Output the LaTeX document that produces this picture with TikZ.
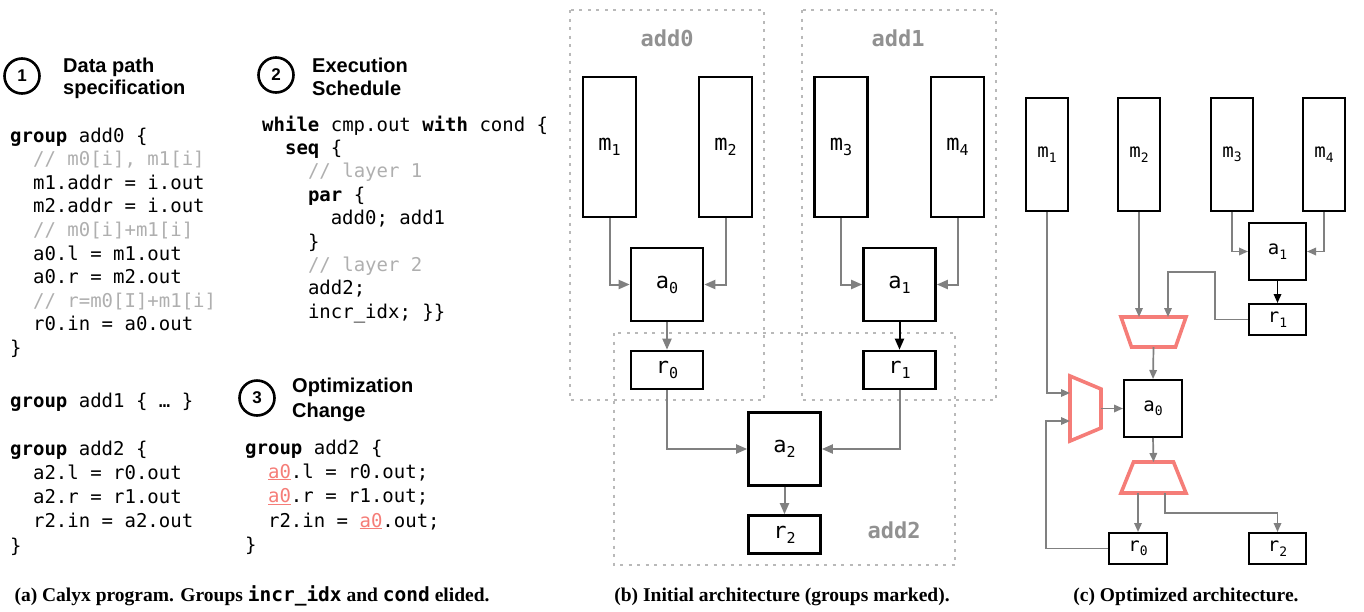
\documentclass[tikz,border=0pt]{standalone}
\usepackage{fontspec}
\setmainfont{Liberation Serif}
\newfontfamily\codef{DejaVu Sans Mono}
\newfontfamily\headf{Liberation Sans}
\usetikzlibrary{arrows.meta,calc}
\definecolor{cgray}{RGB}{175,175,175}
\definecolor{agray}{RGB}{128,128,128}
\definecolor{grpgray}{RGB}{185,185,185}
\definecolor{lblgray}{RGB}{145,145,145}
\definecolor{salmon}{RGB}{245,125,120}
\newcommand\cmt[1]{\textcolor{cgray}{#1}}
\newcommand\redaz{\textcolor{salmon}{\underline{a0}}}
\newcommand\sbB[1]{\raisebox{-5pt}{\fontsize{15}{15}\selectfont #1}}
\newcommand\sbM[1]{\raisebox{-4.5pt}{\fontsize{13}{13}\selectfont #1}}
\newcommand\sbA[1]{\raisebox{-4.5pt}{\fontsize{13}{13}\selectfont #1}}
\begin{document}
\begin{tikzpicture}[x=1pt,y=-1pt,
  codeline/.style={anchor=base west, inner sep=0pt, font=\codef\fontsize{19}{22}\selectfont},
  headtxt/.style={anchor=base west, inner sep=0pt, font=\headf\bfseries\fontsize{20}{24}\selectfont},
  circ/.style={circle, draw, line width=2.6pt, minimum size=35pt, inner sep=0pt, font=\headf\bfseries\fontsize{17}{17}\selectfont},
  captxt/.style={anchor=base, inner sep=0pt, font=\bfseries\fontsize{19.5}{22}\selectfont},
  grp/.style={draw=grpgray, line width=2pt, dash pattern=on 3pt off 5.5pt},
  grplbl/.style={text=lblgray, inner sep=0pt, font=\codef\bfseries\fontsize{22}{22}\selectfont},
  boxb/.style={draw, line width=2.6pt, inner sep=0pt, font=\codef\fontsize{22}{22}\selectfont},
  memb/.style={boxb, minimum width=53pt, minimum height=140pt},
  addb/.style={boxb, minimum width=72pt, minimum height=73pt},
  regb/.style={boxb, minimum width=72pt, minimum height=38pt},
  boxc/.style={draw, line width=2pt, inner sep=0pt, font=\codef\fontsize{19}{19}\selectfont},
  memc/.style={boxc, minimum width=42pt, minimum height=113pt},
  addc/.style={boxc, minimum width=57pt, minimum height=57pt},
  regc/.style={boxc, minimum width=57pt, minimum height=31pt},
  arrb/.style={draw=agray, line width=2pt, -{Triangle[length=11pt,width=9pt]}},
  arrbk/.style={arrb, draw=black},
  arrc/.style={draw=agray, line width=1.7pt, -{Triangle[length=9pt,width=7.5pt]}},
  arrck/.style={arrc, draw=black},
  muxline/.style={draw=salmon, line width=3.6pt, line join=miter},
  muxbox/.style={inner sep=0pt, outer sep=0pt}
]
\useasboundingbox (0,0) rectangle (1364,611);

% ---------------- panel (a) ----------------
\node[circ] (h1) at (22,76) {1};
\node[headtxt] (h1a) at (63,72) {Data path};
\node[headtxt] (h1b) at (63,94.5) {specification};

\node[codeline] (p1l1) at (10,142) {\textbf{group} add0 \{};
\node[codeline] (p1l2) at (32.9,165.6) {\cmt{// m0[i], m1[i]}};
\node[codeline] (p1l3) at (32.9,189.2) {m1.addr = i.out};
\node[codeline] (p1l4) at (32.9,212.8) {m2.addr = i.out};
\node[codeline] (p1l5) at (32.9,236.4) {\cmt{// m0[i]+m1[i]}};
\node[codeline] (p1l6) at (32.9,260) {a0.l = m1.out};
\node[codeline] (p1l7) at (32.9,283.6) {a0.r = m2.out};
\node[codeline] (p1l8) at (32.9,307.2) {\cmt{// r=m0[I]+m1[i]}};
\node[codeline] (p1l9) at (32.9,330.8) {r0.in = a0.out};
\node[codeline] (p1l10) at (10,354.4) {\}};
\node[codeline] (p1l11) at (10,407) {\textbf{group} add1 \{ … \}};
\node[codeline] (p1l12) at (10,455) {\textbf{group} add2 \{};
\node[codeline] (p1l13) at (32.9,479.3) {a2.l = r0.out};
\node[codeline] (p1l14) at (32.9,503.6) {a2.r = r1.out};
\node[codeline] (p1l15) at (32.9,527.9) {r2.in = a2.out};
\node[codeline] (p1l16) at (10,552.2) {\}};

\node[circ] (h2) at (276,75) {2};
\node[headtxt] (h2a) at (312,72) {Execution};
\node[headtxt] (h2b) at (312,95) {Schedule};

\node[codeline] (p2l1) at (262,131) {\textbf{while} cmp.out \textbf{with} cond \{};
\node[codeline] (p2l2) at (284.9,154.4) {\textbf{seq} \{};
\node[codeline] (p2l3) at (307.8,177.8) {\cmt{// layer 1}};
\node[codeline] (p2l4) at (307.8,201.2) {\textbf{par} \{};
\node[codeline] (p2l5) at (330.6,224.6) {add0; add1};
\node[codeline] (p2l6) at (307.8,248) {\}};
\node[codeline] (p2l7) at (307.8,271.4) {\cmt{// layer 2}};
\node[codeline] (p2l8) at (307.8,294.8) {add2;};
\node[codeline] (p2l9) at (307.8,318.2) {incr\_idx; \}\}};

\node[circ] (h3) at (257,398) {3};
\node[headtxt] (h3a) at (292,392) {Optimization};
\node[headtxt] (h3b) at (292,417) {Change};

\node[codeline] (p3l1) at (245,454) {\textbf{group} add2 \{};
\node[codeline] (p3l2) at (267.9,478) {\redaz.l = r0.out;};
\node[codeline] (p3l3) at (267.9,502.5) {\redaz.r = r1.out;};
\node[codeline] (p3l4) at (267.9,527) {r2.in = \redaz.out;};
\node[codeline] (p3l5) at (245,551) {\}};

\node[captxt] (capa) at (252,601) {(a) Calyx program. Groups {\codef incr\_idx} and {\codef cond} elided.};

% ---------------- panel (b) ----------------
\draw[grp] (570,10) rectangle (764,400);
\draw[grp] (802,10) rectangle (996,400);
\draw[grp] (614,333) rectangle (955,565);
\node[grplbl] (g0) at (667,38) {add0};
\node[grplbl] (g1) at (898,38) {add1};
\node[grplbl] (g2) at (894,530) {add2};

\node[memb] (bm1) at (609.5,147) {m\sbB{1}};
\node[memb] (bm2) at (725.5,147) {m\sbB{2}};
\node[memb] (bm3) at (841,147) {m\sbB{3}};
\node[memb] (bm4) at (957.5,147) {m\sbB{4}};
\node[addb] (ba0) at (667,284.5) {a\sbB{0}};
\node[addb] (ba1) at (899.5,284.5) {a\sbB{1}};
\node[regb] (br0) at (667,370) {r\sbB{0}};
\node[regb] (br1) at (899.5,370) {r\sbB{1}};
\node[addb] (ba2) at (784.5,449) {a\sbB{2}};
\node[regb] (br2) at (784.5,534.5) {r\sbB{2}};

\draw[arrb] (bm1.south) |- (ba0.west);
\draw[arrb] (bm2.south) |- (ba0.east);
\draw[arrb] (bm3.south) |- (ba1.west);
\draw[arrb] (bm4.south) |- (ba1.east);
\draw[arrb] (ba0.south) -- (br0.north);
\draw[arrbk] (ba1.south) -- (br1.north);
\draw[arrb] (br0.south) |- (ba2.west);
\draw[arrb] (br1.south) |- (ba2.east);
\draw[arrb] (ba2.south) -- (br2.north);

\node[captxt] (capb) at (782,601) {(b) Initial architecture (groups marked).};

% ---------------- panel (c) ----------------
\node[memc] (cm1) at (1047,154.5) {m\sbM{1}};
\node[memc] (cm2) at (1139,154.5) {m\sbM{2}};
\node[memc] (cm3) at (1232,154.5) {m\sbM{3}};
\node[memc] (cm4) at (1324,154.5) {m\sbM{4}};
\node[addc] (ca1) at (1277.5,251.5) {a\sbA{1}};
\node[regc] (cr1) at (1277.5,319.5) {r\sbA{1}};
\node[addc, minimum width=58pt] (ca0) at (1153,408.5) {a\sbA{0}};
\node[regc, minimum width=58pt] (cr0) at (1138,548.5) {r\sbA{0}};
\node[regc] (cr2) at (1277.5,548.5) {r\sbA{2}};

% muxes
\node[muxbox, minimum width=65pt, minimum height=30pt] (muxT) at (1153.5,332) {};
\draw[muxline] (muxT.north west) -- (muxT.north east) -- ([xshift=-10.5pt]muxT.south east) -- ([xshift=10.5pt]muxT.south west) -- cycle;
\node[muxbox, minimum width=31pt, minimum height=65pt] (muxL) at (1085.5,408.5) {};
\draw[muxline] (muxL.north west) -- (muxL.south west) -- ([yshift=13pt]muxL.south east) -- ([yshift=-13pt]muxL.north east) -- cycle;
\node[muxbox, minimum width=65pt, minimum height=31pt] (muxB) at (1153.5,477.5) {};
\draw[muxline] (muxB.south west) -- (muxB.south east) -- ([xshift=-12.5pt]muxB.north east) -- ([xshift=12.5pt]muxB.north west) -- cycle;

\draw[arrc] (cm3.south) |- (ca1.west);
\draw[arrc] (cm4.south) |- (ca1.east);
\draw[arrck] (ca1.south) -- (cr1.north);
\draw[arrc] (cm2.south) -- (cm2.south |- muxT.north);
\draw[arrc] (cr1.west) -| ++(-33,-47.5) -| ([xshift=14.5pt]muxT.north);
\draw[arrc] (muxT.south) -- (ca0.north);
\draw[arrc] (cm1.south) |- ([yshift=15.5pt]muxL.west);
\draw[arrc] (cr0.west) -| ++(-62,-127.5) -- ([yshift=-12.5pt]muxL.west);
\draw[arrc] (muxL.east) -- (ca0.west);
\draw[arrc] (ca0.south) -- (muxB.north);
\draw[arrc] (cr0.north |- muxB.south) -- (cr0.north);
\draw[arrc] ([xshift=11.5pt]muxB.south) -- ++(0,20) -| (cr2.north);

\node[captxt] (capc) at (1186,601) {(c) Optimized architecture.};
\end{tikzpicture}
\end{document}
